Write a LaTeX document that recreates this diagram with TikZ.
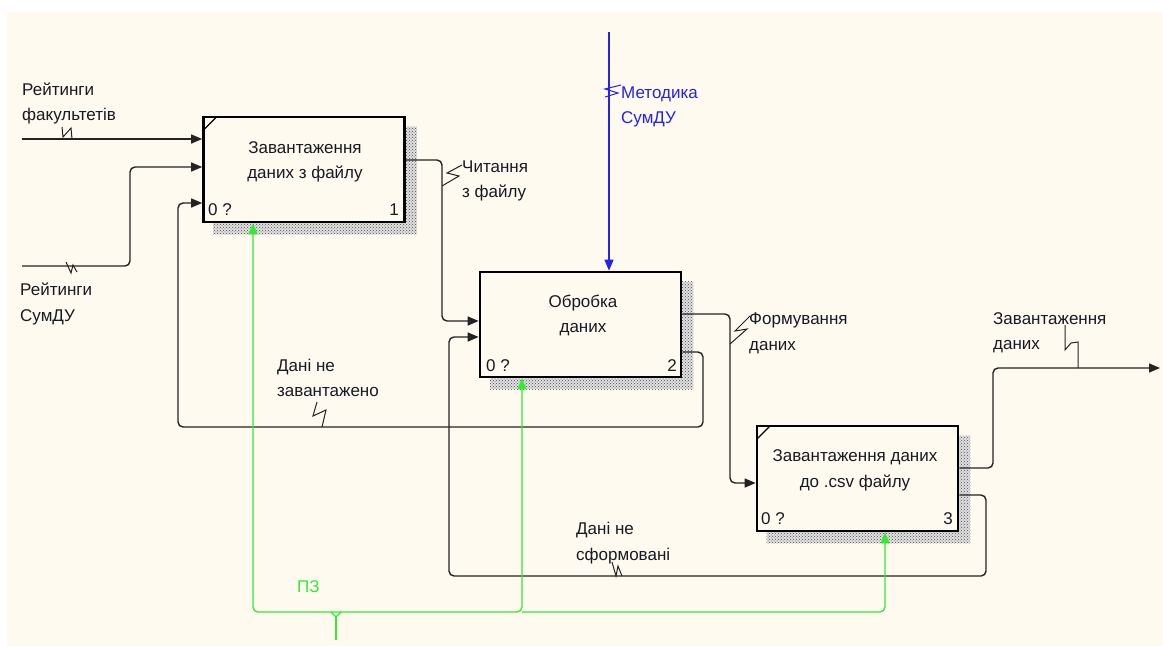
\documentclass[tikz,border=0pt]{standalone}
\usepackage{fontspec}
\setmainfont{Liberation Sans}
\usetikzlibrary{arrows.meta,patterns}
\definecolor{paper}{RGB}{254,250,240}
\definecolor{ink}{RGB}{25,25,35}
\definecolor{wire}{RGB}{35,35,35}
\definecolor{ctlblue}{RGB}{35,35,235}
\definecolor{mechgreen}{RGB}{50,235,50}
\pgfdeclarelayer{bg}
\pgfsetlayers{bg,main}
\tikzset{
  txt/.style={font=\fontsize{17}{25.5}\selectfont, text=ink, inner sep=0pt, align=left},
  % base anchor of a two-line node sits on the baseline of its last line
  lbl/.style={txt, anchor=base west},
  boxtext/.style={txt, align=center, anchor=base},
  fnbox/.style={draw=black, line width=2.6pt, fill=paper, minimum width=201pt, minimum height=105pt, inner sep=0pt},
  shadefill/.style={fill=black!12},
  shade/.style={pattern=crosshatch dots, pattern color=black!70},
  tip/.style={-{Triangle[length=11pt,width=9pt]}},
  flow/.style={draw=wire, line width=1.4pt, rounded corners=5pt, tip},
  ctlflow/.style={draw=ctlblue, line width=1.3pt, tip},
  mechflow/.style={draw=mechgreen, line width=1.3pt, rounded corners=5pt, tip},
  bus/.style={draw=mechgreen, line width=1.3pt},
  squig/.style={draw=wire, line width=1pt},
  corner/.style={draw=black, line width=1.2pt}
}
\begin{document}
\begin{tikzpicture}[x=1pt,y=-1pt]
\useasboundingbox (0,0) rectangle (1163,646);

% activity boxes
\node[fnbox] (b1) at (304,169.5) {};
\node[fnbox] (b2) at (580.5,324.5) {};
\node[fnbox] (b3) at (857.5,478.5) {};

% paper and hatched shadows behind the boxes
\begin{pgfonlayer}{bg}
  \fill[white] (0,0) rectangle (1163,646);
  \fill[paper] (7,12) rectangle (1163,646);
  \foreach \b in {b1,b2,b3}{
    \fill[shadefill] ([xshift=11pt,yshift=-11pt]\b.south west) rectangle ([xshift=11pt,yshift=-11pt]\b.north east);
    \fill[shade] ([xshift=11pt,yshift=-11pt]\b.south west) rectangle ([xshift=11pt,yshift=-11pt]\b.north east);
  }
\end{pgfonlayer}

% corner marks of decomposed boxes
\draw[corner] ([xshift=1.5pt,yshift=-14pt]b1.north west) -- ([xshift=14pt,yshift=-1.5pt]b1.north west);
\draw[corner] ([xshift=1.5pt,yshift=-14pt]b3.north west) -- ([xshift=14pt,yshift=-1.5pt]b3.north west);

% box titles and numbers
\node[boxtext] (t1) at (305,178.5) {Завантаження\\даних з файлу};
\node[boxtext] (t2) at (583,332.5) {Обробка\\даних};
\node[boxtext] (t3) at (855,487) {Завантаження даних\\до .csv файлу};
\node[txt, anchor=west] (c1) at (208,210) {0 ?};
\node[txt, anchor=east] (n1) at (399,210) {1};
\node[txt, anchor=west] (c2) at (486,366) {0 ?};
\node[txt, anchor=east] (n2) at (677,366) {2};
\node[txt, anchor=west] (c3) at (761,519) {0 ?};
\node[txt, anchor=east] (n3) at (953,519) {3};

% arrow labels
\node[lbl] (l1) at (22,120.5) {Рейтинги\\факультетів};
\node[lbl] (l2) at (20,321) {Рейтинги\\СумДУ};
\node[lbl] (l3) at (462,197.5) {Читання\\з файлу};
\node[lbl, text=ctlblue] (l4) at (621,123.5) {Методика\\СумДУ};
\node[lbl] (l5) at (749,350) {Формування\\даних};
\node[lbl] (l6) at (993,349.5) {Завантаження\\даних};
\node[lbl] (l7) at (277,396.5) {Дані не\\завантажено};
\node[lbl] (l8) at (576,560) {Дані не\\сформовані};
\node[lbl, text=mechgreen] (l9) at (297,592) {ПЗ};

% free ends of boundary arrows
\coordinate (in1) at (22,139);
\coordinate (in2) at (22,266);
\coordinate (out1) at (1160,368);
\coordinate (ctl) at (609,32);
\coordinate (mech) at (336,640);

% inputs
\draw[flow] (in1) -- (b1.west |- in1);
\draw[flow] (in2) -- (130,266) -- (130,167) -- (b1.west |- 0,167);

% flows between activities
\draw[flow] (b1.east |- 0,160) -- (442,160) -- (442,321) -- (b2.west |- 0,321);
\draw[flow] (b2.east |- 0,314) -- (730,314) -- (730,483) -- (b3.west |- 0,483);
\draw[flow] (b3.east |- 0,468) -- (993,468) -- (993,368) -- (out1);

% feedback loops
\draw[flow] (b2.east |- 0,352) -- (703,352) -- (703,427) -- (178,427) -- (178,203) -- (b1.west |- 0,203);
\draw[flow] (b3.east |- 0,495) -- (986,495) -- (986,576) -- (449,576) -- (449,337) -- (b2.west |- 0,337);

% control
\draw[ctlflow] (ctl) -- (ctl |- b2.north);

% mechanism
\draw[mechflow] (336,612) -- (253,612) -- (b1.south -| 253,0);
\draw[mechflow] (336,612) -- (522,612) -- (b2.south -| 522,0);
\draw[mechflow] (522,612) -- (885,612) -- (b3.south -| 885,0);
\draw[bus] (331,612) -- (336,617) -- (341,612);
\draw[bus] (mech) -- (336,617);

% label squiggles
\draw[squig] (72,139) -- (71,128) -- (63,137) -- (62,127);
\draw[squig] (66,262) -- (71,273) -- (73,265) -- (77,272);
\draw[squig] (442,186) -- (459,176) -- (447,173) -- (462,165);
\draw[draw=ctlblue, line width=1pt] (621,85) -- (605,89) -- (618,93) -- (605,97);
\draw[squig] (730,344) -- (747,329) -- (735,331) -- (750,316);
\draw[squig] (1065,325) -- (1065,350) -- (1071,343) -- (1078,342) -- (1078,368);
\draw[squig] (317,402) -- (313,416) -- (326,410) -- (322,427);
\draw[squig] (612,562) -- (616,576) -- (618,566) -- (622,576);
\end{tikzpicture}
\end{document}
